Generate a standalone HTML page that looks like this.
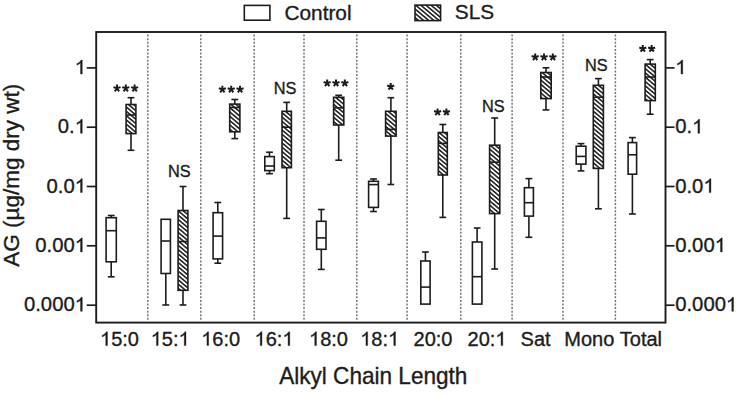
<!DOCTYPE html><html><head><meta charset="utf-8"><style>html,body{margin:0;padding:0;background:#fff;}svg{display:block;}text{font-family:"Liberation Sans",sans-serif;fill:#1c1c1c;stroke:#1c1c1c;stroke-width:0.35px;}</style></head><body><svg width="742" height="396" viewBox="0 0 742 396"><defs><pattern id="h" patternUnits="userSpaceOnUse" width="10" height="3.3" patternTransform="rotate(40)"><rect width="10" height="3.3" fill="#fff"></rect><rect y="0" width="10" height="1.55" fill="#1c1c1c"></rect></pattern></defs><rect width="742" height="396" fill="#fff"></rect><line x1="147.8" y1="34.6" x2="147.8" y2="320.4" stroke="#727272" stroke-width="1.45" stroke-dasharray="2 1.585"></line><line x1="200.8" y1="34.6" x2="200.8" y2="320.4" stroke="#727272" stroke-width="1.45" stroke-dasharray="2 1.585"></line><line x1="254.2" y1="34.6" x2="254.2" y2="320.4" stroke="#727272" stroke-width="1.45" stroke-dasharray="2 1.585"></line><line x1="304.0" y1="34.6" x2="304.0" y2="320.4" stroke="#727272" stroke-width="1.45" stroke-dasharray="2 1.585"></line><line x1="356.8" y1="34.6" x2="356.8" y2="320.4" stroke="#727272" stroke-width="1.45" stroke-dasharray="2 1.585"></line><line x1="407.1" y1="34.6" x2="407.1" y2="320.4" stroke="#727272" stroke-width="1.45" stroke-dasharray="2 1.585"></line><line x1="460.8" y1="34.6" x2="460.8" y2="320.4" stroke="#727272" stroke-width="1.45" stroke-dasharray="2 1.585"></line><line x1="512.1" y1="34.6" x2="512.1" y2="320.4" stroke="#727272" stroke-width="1.45" stroke-dasharray="2 1.585"></line><line x1="563.0" y1="34.6" x2="563.0" y2="320.4" stroke="#727272" stroke-width="1.45" stroke-dasharray="2 1.585"></line><line x1="615.4" y1="34.6" x2="615.4" y2="320.4" stroke="#727272" stroke-width="1.45" stroke-dasharray="2 1.585"></line><rect x="96.2" y="32.0" width="569.3" height="290.6" fill="none" stroke="#1c1c1c" stroke-width="1.9"></rect><line x1="86.8" y1="67.9" x2="96.2" y2="67.9" stroke="#1c1c1c" stroke-width="1.7"></line><line x1="665.5" y1="67.9" x2="674.5" y2="67.9" stroke="#1c1c1c" stroke-width="1.7"></line><text x="86.0" y="74.0" font-size="20.3" text-anchor="end"><tspan style="fill:none;stroke:none">1</tspan></text><text x="675.2" y="74.0" font-size="20.3"><tspan style="fill:none;stroke:none">1</tspan></text><line x1="86.8" y1="127.2" x2="96.2" y2="127.2" stroke="#1c1c1c" stroke-width="1.7"></line><line x1="665.5" y1="127.2" x2="674.5" y2="127.2" stroke="#1c1c1c" stroke-width="1.7"></line><text x="86.0" y="133.3" font-size="20.3" text-anchor="end">0.<tspan style="fill:none;stroke:none">1</tspan></text><text x="675.2" y="133.3" font-size="20.3">0.<tspan style="fill:none;stroke:none">1</tspan></text><line x1="86.8" y1="186.5" x2="96.2" y2="186.5" stroke="#1c1c1c" stroke-width="1.7"></line><line x1="665.5" y1="186.5" x2="674.5" y2="186.5" stroke="#1c1c1c" stroke-width="1.7"></line><text x="86.0" y="192.6" font-size="20.3" text-anchor="end">0.0<tspan style="fill:none;stroke:none">1</tspan></text><text x="675.2" y="192.6" font-size="20.3">0.0<tspan style="fill:none;stroke:none">1</tspan></text><line x1="86.8" y1="245.8" x2="96.2" y2="245.8" stroke="#1c1c1c" stroke-width="1.7"></line><line x1="665.5" y1="245.8" x2="674.5" y2="245.8" stroke="#1c1c1c" stroke-width="1.7"></line><text x="86.0" y="251.9" font-size="20.3" text-anchor="end">0.00<tspan style="fill:none;stroke:none">1</tspan></text><text x="675.2" y="251.9" font-size="20.3">0.00<tspan style="fill:none;stroke:none">1</tspan></text><line x1="86.8" y1="305.2" x2="96.2" y2="305.2" stroke="#1c1c1c" stroke-width="1.7"></line><line x1="665.5" y1="305.2" x2="674.5" y2="305.2" stroke="#1c1c1c" stroke-width="1.7"></line><text x="86.0" y="311.3" font-size="20.3" text-anchor="end">0.000<tspan style="fill:none;stroke:none">1</tspan></text><text x="675.2" y="311.3" font-size="20.3">0.000<tspan style="fill:none;stroke:none">1</tspan></text><g stroke="#1c1c1c" stroke-width="1.6"><line x1="111.2" y1="215.5" x2="111.2" y2="217.7"></line><line x1="107.8" y1="215.5" x2="114.6" y2="215.5"></line><line x1="111.2" y1="261.8" x2="111.2" y2="276.8"></line><line x1="107.8" y1="276.8" x2="114.6" y2="276.8"></line><rect x="106.1" y="217.7" width="10.2" height="44.1" fill="#fff"></rect><line x1="106.1" y1="230.7" x2="116.3" y2="230.7"></line><line x1="165.8" y1="273.5" x2="165.8" y2="305.0"></line><line x1="162.3" y1="305.0" x2="169.2" y2="305.0"></line><rect x="161.1" y="219.3" width="9.3" height="54.2" fill="#fff"></rect><line x1="161.1" y1="241.0" x2="170.4" y2="241.0"></line><line x1="217.8" y1="202.5" x2="217.8" y2="212.7"></line><line x1="214.4" y1="202.5" x2="221.2" y2="202.5"></line><line x1="217.8" y1="258.9" x2="217.8" y2="263.2"></line><line x1="214.4" y1="263.2" x2="221.2" y2="263.2"></line><rect x="213.1" y="212.7" width="9.5" height="46.2" fill="#fff"></rect><line x1="213.1" y1="236.1" x2="222.6" y2="236.1"></line><line x1="269.5" y1="152.2" x2="269.5" y2="156.6"></line><line x1="266.1" y1="152.2" x2="272.9" y2="152.2"></line><line x1="269.5" y1="170.6" x2="269.5" y2="173.7"></line><line x1="266.1" y1="173.7" x2="272.9" y2="173.7"></line><rect x="264.8" y="156.6" width="9.5" height="14.0" fill="#fff"></rect><line x1="264.8" y1="166.0" x2="274.3" y2="166.0"></line><line x1="321.3" y1="209.5" x2="321.3" y2="221.3"></line><line x1="317.9" y1="209.5" x2="324.7" y2="209.5"></line><line x1="321.3" y1="249.3" x2="321.3" y2="269.4"></line><line x1="317.9" y1="269.4" x2="324.7" y2="269.4"></line><rect x="316.6" y="221.3" width="9.4" height="28.0" fill="#fff"></rect><line x1="316.6" y1="237.9" x2="326.0" y2="237.9"></line><line x1="373.5" y1="179.0" x2="373.5" y2="181.3"></line><line x1="370.1" y1="179.0" x2="376.9" y2="179.0"></line><line x1="373.5" y1="207.4" x2="373.5" y2="211.5"></line><line x1="370.1" y1="211.5" x2="376.9" y2="211.5"></line><rect x="368.6" y="181.3" width="9.8" height="26.1" fill="#fff"></rect><line x1="368.6" y1="184.6" x2="378.4" y2="184.6"></line><line x1="425.4" y1="252.0" x2="425.4" y2="261.0"></line><line x1="422.1" y1="252.0" x2="428.8" y2="252.0"></line><rect x="420.8" y="261.0" width="9.3" height="43.1" fill="#fff"></rect><line x1="420.8" y1="287.1" x2="430.1" y2="287.1"></line><line x1="477.1" y1="228.0" x2="477.1" y2="242.0"></line><line x1="473.8" y1="228.0" x2="480.5" y2="228.0"></line><rect x="472.4" y="242.0" width="9.5" height="62.1" fill="#fff"></rect><line x1="472.4" y1="276.7" x2="481.9" y2="276.7"></line><line x1="528.9" y1="178.6" x2="528.9" y2="187.7"></line><line x1="525.5" y1="178.6" x2="532.3" y2="178.6"></line><line x1="528.9" y1="216.1" x2="528.9" y2="237.3"></line><line x1="525.5" y1="237.3" x2="532.3" y2="237.3"></line><rect x="524.4" y="187.7" width="9.0" height="28.4" fill="#fff"></rect><line x1="524.4" y1="202.7" x2="533.4" y2="202.7"></line><line x1="581.0" y1="143.6" x2="581.0" y2="146.2"></line><line x1="577.6" y1="143.6" x2="584.4" y2="143.6"></line><line x1="581.0" y1="164.1" x2="581.0" y2="170.9"></line><line x1="577.6" y1="170.9" x2="584.4" y2="170.9"></line><rect x="576.2" y="146.2" width="9.7" height="17.9" fill="#fff"></rect><line x1="576.2" y1="156.4" x2="585.9" y2="156.4"></line><line x1="632.4" y1="137.6" x2="632.4" y2="142.6"></line><line x1="629.0" y1="137.6" x2="635.8" y2="137.6"></line><line x1="632.4" y1="174.2" x2="632.4" y2="214.0"></line><line x1="629.0" y1="214.0" x2="635.8" y2="214.0"></line><rect x="628.1" y="142.6" width="8.5" height="31.6" fill="#fff"></rect><line x1="628.1" y1="154.8" x2="636.6" y2="154.8"></line><line x1="131.0" y1="97.7" x2="131.0" y2="104.5"></line><line x1="127.6" y1="97.7" x2="134.4" y2="97.7"></line><line x1="131.0" y1="133.6" x2="131.0" y2="150.3"></line><line x1="127.6" y1="150.3" x2="134.4" y2="150.3"></line><rect x="126.1" y="104.5" width="9.8" height="29.1" fill="url(#h)"></rect><line x1="126.1" y1="115.0" x2="135.9" y2="115.0"></line><line x1="183.0" y1="186.5" x2="183.0" y2="210.5"></line><line x1="179.6" y1="186.5" x2="186.4" y2="186.5"></line><line x1="183.0" y1="290.3" x2="183.0" y2="305.0"></line><line x1="179.6" y1="305.0" x2="186.4" y2="305.0"></line><rect x="178.1" y="210.5" width="9.8" height="79.8" fill="url(#h)"></rect><line x1="178.1" y1="241.5" x2="187.9" y2="241.5"></line><line x1="234.8" y1="99.5" x2="234.8" y2="104.1"></line><line x1="231.4" y1="99.5" x2="238.2" y2="99.5"></line><line x1="234.8" y1="131.8" x2="234.8" y2="138.6"></line><line x1="231.4" y1="138.6" x2="238.2" y2="138.6"></line><rect x="229.7" y="104.1" width="10.2" height="27.7" fill="url(#h)"></rect><line x1="229.7" y1="107.5" x2="239.9" y2="107.5"></line><line x1="286.7" y1="102.4" x2="286.7" y2="111.3"></line><line x1="283.3" y1="102.4" x2="290.1" y2="102.4"></line><line x1="286.7" y1="167.7" x2="286.7" y2="218.4"></line><line x1="283.3" y1="218.4" x2="290.1" y2="218.4"></line><rect x="282.0" y="111.3" width="9.4" height="56.4" fill="url(#h)"></rect><line x1="282.0" y1="127.2" x2="291.4" y2="127.2"></line><line x1="338.7" y1="95.3" x2="338.7" y2="97.3"></line><line x1="335.3" y1="95.3" x2="342.1" y2="95.3"></line><line x1="338.7" y1="125.0" x2="338.7" y2="160.2"></line><line x1="335.3" y1="160.2" x2="342.1" y2="160.2"></line><rect x="333.6" y="97.3" width="10.2" height="27.7" fill="url(#h)"></rect><line x1="333.6" y1="107.9" x2="343.8" y2="107.9"></line><line x1="390.9" y1="97.7" x2="390.9" y2="111.3"></line><line x1="387.5" y1="97.7" x2="394.2" y2="97.7"></line><line x1="390.9" y1="136.1" x2="390.9" y2="184.5"></line><line x1="387.5" y1="184.5" x2="394.2" y2="184.5"></line><rect x="385.6" y="111.3" width="10.5" height="24.8" fill="url(#h)"></rect><line x1="385.6" y1="129.4" x2="396.1" y2="129.4"></line><line x1="442.8" y1="124.5" x2="442.8" y2="132.5"></line><line x1="439.4" y1="124.5" x2="446.2" y2="124.5"></line><line x1="442.8" y1="175.0" x2="442.8" y2="217.4"></line><line x1="439.4" y1="217.4" x2="446.2" y2="217.4"></line><rect x="438.3" y="132.5" width="9.0" height="42.5" fill="url(#h)"></rect><line x1="438.3" y1="143.4" x2="447.3" y2="143.4"></line><line x1="494.7" y1="118.0" x2="494.7" y2="145.2"></line><line x1="491.3" y1="118.0" x2="498.1" y2="118.0"></line><line x1="494.7" y1="213.6" x2="494.7" y2="269.0"></line><line x1="491.3" y1="269.0" x2="498.1" y2="269.0"></line><rect x="489.6" y="145.2" width="10.2" height="68.4" fill="url(#h)"></rect><line x1="489.6" y1="162.2" x2="499.8" y2="162.2"></line><line x1="546.0" y1="67.8" x2="546.0" y2="72.5"></line><line x1="542.6" y1="67.8" x2="549.4" y2="67.8"></line><line x1="546.0" y1="98.6" x2="546.0" y2="109.9"></line><line x1="542.6" y1="109.9" x2="549.4" y2="109.9"></line><rect x="540.8" y="72.5" width="10.4" height="26.1" fill="url(#h)"></rect><line x1="540.8" y1="77.0" x2="551.2" y2="77.0"></line><line x1="598.4" y1="78.6" x2="598.4" y2="85.3"></line><line x1="595.0" y1="78.6" x2="601.8" y2="78.6"></line><line x1="598.4" y1="168.4" x2="598.4" y2="208.8"></line><line x1="595.0" y1="208.8" x2="601.8" y2="208.8"></line><rect x="593.3" y="85.3" width="10.1" height="83.1" fill="url(#h)"></rect><line x1="593.3" y1="97.2" x2="603.4" y2="97.2"></line><line x1="650.2" y1="59.6" x2="650.2" y2="64.1"></line><line x1="646.8" y1="59.6" x2="653.6" y2="59.6"></line><line x1="650.2" y1="100.6" x2="650.2" y2="114.2"></line><line x1="646.8" y1="114.2" x2="653.6" y2="114.2"></line><rect x="645.1" y="64.1" width="10.2" height="36.5" fill="url(#h)"></rect><line x1="645.1" y1="77.0" x2="655.3" y2="77.0"></line></g><path d="M116.96,88.30L116.96,84.60M116.96,88.30L120.48,87.16M116.96,88.30L119.13,91.29M116.96,88.30L114.79,91.29M116.96,88.30L113.44,87.16" stroke="#1c1c1c" stroke-width="2.00" fill="none"></path><path d="M125.80,88.30L125.80,84.60M125.80,88.30L129.32,87.16M125.80,88.30L127.97,91.29M125.80,88.30L123.63,91.29M125.80,88.30L122.28,87.16" stroke="#1c1c1c" stroke-width="2.00" fill="none"></path><path d="M134.64,88.30L134.64,84.60M134.64,88.30L138.16,87.16M134.64,88.30L136.81,91.29M134.64,88.30L132.47,91.29M134.64,88.30L131.12,87.16" stroke="#1c1c1c" stroke-width="2.00" fill="none"></path><text x="179.3" y="177.2" font-size="16.3" text-anchor="middle">NS</text><path d="M222.36,89.40L222.36,85.70M222.36,89.40L225.88,88.26M222.36,89.40L224.53,92.39M222.36,89.40L220.19,92.39M222.36,89.40L218.84,88.26" stroke="#1c1c1c" stroke-width="2.00" fill="none"></path><path d="M231.20,89.40L231.20,85.70M231.20,89.40L234.72,88.26M231.20,89.40L233.37,92.39M231.20,89.40L229.03,92.39M231.20,89.40L227.68,88.26" stroke="#1c1c1c" stroke-width="2.00" fill="none"></path><path d="M240.04,89.40L240.04,85.70M240.04,89.40L243.56,88.26M240.04,89.40L242.21,92.39M240.04,89.40L237.87,92.39M240.04,89.40L236.52,88.26" stroke="#1c1c1c" stroke-width="2.00" fill="none"></path><text x="285.1" y="94.3" font-size="16.3" text-anchor="middle">NS</text><path d="M327.16,83.10L327.16,79.40M327.16,83.10L330.68,81.96M327.16,83.10L329.33,86.09M327.16,83.10L324.99,86.09M327.16,83.10L323.64,81.96" stroke="#1c1c1c" stroke-width="2.00" fill="none"></path><path d="M336.00,83.10L336.00,79.40M336.00,83.10L339.52,81.96M336.00,83.10L338.17,86.09M336.00,83.10L333.83,86.09M336.00,83.10L332.48,81.96" stroke="#1c1c1c" stroke-width="2.00" fill="none"></path><path d="M344.84,83.10L344.84,79.40M344.84,83.10L348.36,81.96M344.84,83.10L347.01,86.09M344.84,83.10L342.67,86.09M344.84,83.10L341.32,81.96" stroke="#1c1c1c" stroke-width="2.00" fill="none"></path><path d="M390.70,86.70L390.70,83.00M390.70,86.70L394.22,85.56M390.70,86.70L392.87,89.69M390.70,86.70L388.53,89.69M390.70,86.70L387.18,85.56" stroke="#1c1c1c" stroke-width="2.00" fill="none"></path><path d="M437.58,112.20L437.58,108.50M437.58,112.20L441.10,111.06M437.58,112.20L439.75,115.19M437.58,112.20L435.41,115.19M437.58,112.20L434.06,111.06" stroke="#1c1c1c" stroke-width="2.00" fill="none"></path><path d="M446.42,112.20L446.42,108.50M446.42,112.20L449.94,111.06M446.42,112.20L448.59,115.19M446.42,112.20L444.25,115.19M446.42,112.20L442.90,111.06" stroke="#1c1c1c" stroke-width="2.00" fill="none"></path><text x="493.3" y="112.4" font-size="16.3" text-anchor="middle">NS</text><path d="M535.16,57.20L535.16,53.50M535.16,57.20L538.68,56.06M535.16,57.20L537.33,60.19M535.16,57.20L532.99,60.19M535.16,57.20L531.64,56.06" stroke="#1c1c1c" stroke-width="2.00" fill="none"></path><path d="M544.00,57.20L544.00,53.50M544.00,57.20L547.52,56.06M544.00,57.20L546.17,60.19M544.00,57.20L541.83,60.19M544.00,57.20L540.48,56.06" stroke="#1c1c1c" stroke-width="2.00" fill="none"></path><path d="M552.84,57.20L552.84,53.50M552.84,57.20L556.36,56.06M552.84,57.20L555.01,60.19M552.84,57.20L550.67,60.19M552.84,57.20L549.32,56.06" stroke="#1c1c1c" stroke-width="2.00" fill="none"></path><text x="596.3" y="71.3" font-size="16.3" text-anchor="middle">NS</text><path d="M642.78,48.70L642.78,45.00M642.78,48.70L646.30,47.56M642.78,48.70L644.95,51.69M642.78,48.70L640.61,51.69M642.78,48.70L639.26,47.56" stroke="#1c1c1c" stroke-width="2.00" fill="none"></path><path d="M651.62,48.70L651.62,45.00M651.62,48.70L655.14,47.56M651.62,48.70L653.79,51.69M651.62,48.70L649.45,51.69M651.62,48.70L648.10,47.56" stroke="#1c1c1c" stroke-width="2.00" fill="none"></path><text x="119.5" y="345.6" font-size="20" text-anchor="middle"><tspan style="fill:none;stroke:none">1</tspan>5:0</text><text x="170.2" y="345.6" font-size="20" text-anchor="middle"><tspan style="fill:none;stroke:none">1</tspan>5:<tspan style="fill:none;stroke:none">1</tspan></text><text x="220.7" y="345.6" font-size="20" text-anchor="middle"><tspan style="fill:none;stroke:none">1</tspan>6:0</text><text x="274.0" y="345.6" font-size="20" text-anchor="middle"><tspan style="fill:none;stroke:none">1</tspan>6:<tspan style="fill:none;stroke:none">1</tspan></text><text x="328.5" y="345.6" font-size="20" text-anchor="middle"><tspan style="fill:none;stroke:none">1</tspan>8:0</text><text x="379.7" y="345.6" font-size="20" text-anchor="middle"><tspan style="fill:none;stroke:none">1</tspan>8:<tspan style="fill:none;stroke:none">1</tspan></text><text x="433.0" y="345.6" font-size="20" text-anchor="middle">20:0</text><text x="487.0" y="345.6" font-size="20" text-anchor="middle">20:<tspan style="fill:none;stroke:none">1</tspan></text><text x="535.6" y="345.6" font-size="20" text-anchor="middle">Sat</text><text x="589.3" y="345.6" font-size="20" text-anchor="middle">Mono</text><text x="640.9" y="345.6" font-size="20" text-anchor="middle">Total</text><text x="373.3" y="384.4" font-size="23.6" text-anchor="middle" textLength="188.2" lengthAdjust="spacingAndGlyphs">Alkyl Chain Length</text><text transform="translate(19.3,175.2) rotate(-90)" font-size="22.5" text-anchor="middle">AG (µg/mg dry wt)</text><rect x="244.3" y="5.4" width="25.6" height="14.8" fill="#fff" stroke="#1c1c1c" stroke-width="1.6"></rect><text x="284.5" y="19.6" font-size="20.8">Control</text><rect x="415.0" y="5.1" width="25.6" height="15.5" fill="url(#h)" stroke="#1c1c1c" stroke-width="1.6"></rect><text x="454.8" y="19.3" font-size="20.8">SLS</text><g><path d="M763 0H583V1098Q518 1038 412 979Q306 920 222 890V1057Q373 1124 486 1221Q599 1318 646 1409H763Z" transform="translate(74.72,74.00) scale(0.00991,-0.00991)" fill="#1c1c1c" stroke="#1c1c1c" stroke-width="35.3"></path><path d="M763 0H583V1098Q518 1038 412 979Q306 920 222 890V1057Q373 1124 486 1221Q599 1318 646 1409H763Z" transform="translate(675.20,74.00) scale(0.00991,-0.00991)" fill="#1c1c1c" stroke="#1c1c1c" stroke-width="35.3"></path><path d="M763 0H583V1098Q518 1038 412 979Q306 920 222 890V1057Q373 1124 486 1221Q599 1318 646 1409H763Z" transform="translate(74.72,133.30) scale(0.00991,-0.00991)" fill="#1c1c1c" stroke="#1c1c1c" stroke-width="35.3"></path><path d="M763 0H583V1098Q518 1038 412 979Q306 920 222 890V1057Q373 1124 486 1221Q599 1318 646 1409H763Z" transform="translate(692.12,133.30) scale(0.00991,-0.00991)" fill="#1c1c1c" stroke="#1c1c1c" stroke-width="35.3"></path><path d="M763 0H583V1098Q518 1038 412 979Q306 920 222 890V1057Q373 1124 486 1221Q599 1318 646 1409H763Z" transform="translate(74.72,192.60) scale(0.00991,-0.00991)" fill="#1c1c1c" stroke="#1c1c1c" stroke-width="35.3"></path><path d="M763 0H583V1098Q518 1038 412 979Q306 920 222 890V1057Q373 1124 486 1221Q599 1318 646 1409H763Z" transform="translate(703.40,192.60) scale(0.00991,-0.00991)" fill="#1c1c1c" stroke="#1c1c1c" stroke-width="35.3"></path><path d="M763 0H583V1098Q518 1038 412 979Q306 920 222 890V1057Q373 1124 486 1221Q599 1318 646 1409H763Z" transform="translate(74.72,251.90) scale(0.00991,-0.00991)" fill="#1c1c1c" stroke="#1c1c1c" stroke-width="35.3"></path><path d="M763 0H583V1098Q518 1038 412 979Q306 920 222 890V1057Q373 1124 486 1221Q599 1318 646 1409H763Z" transform="translate(714.68,251.90) scale(0.00991,-0.00991)" fill="#1c1c1c" stroke="#1c1c1c" stroke-width="35.3"></path><path d="M763 0H583V1098Q518 1038 412 979Q306 920 222 890V1057Q373 1124 486 1221Q599 1318 646 1409H763Z" transform="translate(74.72,311.30) scale(0.00991,-0.00991)" fill="#1c1c1c" stroke="#1c1c1c" stroke-width="35.3"></path><path d="M763 0H583V1098Q518 1038 412 979Q306 920 222 890V1057Q373 1124 486 1221Q599 1318 646 1409H763Z" transform="translate(725.97,311.30) scale(0.00991,-0.00991)" fill="#1c1c1c" stroke="#1c1c1c" stroke-width="35.3"></path><path d="M763 0H583V1098Q518 1038 412 979Q306 920 222 890V1057Q373 1124 486 1221Q599 1318 646 1409H763Z" transform="translate(100.03,345.60) scale(0.00977,-0.00977)" fill="#1c1c1c" stroke="#1c1c1c" stroke-width="35.8"></path><path d="M763 0H583V1098Q518 1038 412 979Q306 920 222 890V1057Q373 1124 486 1221Q599 1318 646 1409H763Z" transform="translate(150.73,345.60) scale(0.00977,-0.00977)" fill="#1c1c1c" stroke="#1c1c1c" stroke-width="35.8"></path><path d="M763 0H583V1098Q518 1038 412 979Q306 920 222 890V1057Q373 1124 486 1221Q599 1318 646 1409H763Z" transform="translate(178.54,345.60) scale(0.00977,-0.00977)" fill="#1c1c1c" stroke="#1c1c1c" stroke-width="35.8"></path><path d="M763 0H583V1098Q518 1038 412 979Q306 920 222 890V1057Q373 1124 486 1221Q599 1318 646 1409H763Z" transform="translate(201.23,345.60) scale(0.00977,-0.00977)" fill="#1c1c1c" stroke="#1c1c1c" stroke-width="35.8"></path><path d="M763 0H583V1098Q518 1038 412 979Q306 920 222 890V1057Q373 1124 486 1221Q599 1318 646 1409H763Z" transform="translate(254.53,345.60) scale(0.00977,-0.00977)" fill="#1c1c1c" stroke="#1c1c1c" stroke-width="35.8"></path><path d="M763 0H583V1098Q518 1038 412 979Q306 920 222 890V1057Q373 1124 486 1221Q599 1318 646 1409H763Z" transform="translate(282.34,345.60) scale(0.00977,-0.00977)" fill="#1c1c1c" stroke="#1c1c1c" stroke-width="35.8"></path><path d="M763 0H583V1098Q518 1038 412 979Q306 920 222 890V1057Q373 1124 486 1221Q599 1318 646 1409H763Z" transform="translate(309.03,345.60) scale(0.00977,-0.00977)" fill="#1c1c1c" stroke="#1c1c1c" stroke-width="35.8"></path><path d="M763 0H583V1098Q518 1038 412 979Q306 920 222 890V1057Q373 1124 486 1221Q599 1318 646 1409H763Z" transform="translate(360.23,345.60) scale(0.00977,-0.00977)" fill="#1c1c1c" stroke="#1c1c1c" stroke-width="35.8"></path><path d="M763 0H583V1098Q518 1038 412 979Q306 920 222 890V1057Q373 1124 486 1221Q599 1318 646 1409H763Z" transform="translate(388.04,345.60) scale(0.00977,-0.00977)" fill="#1c1c1c" stroke="#1c1c1c" stroke-width="35.8"></path><path d="M763 0H583V1098Q518 1038 412 979Q306 920 222 890V1057Q373 1124 486 1221Q599 1318 646 1409H763Z" transform="translate(495.34,345.60) scale(0.00977,-0.00977)" fill="#1c1c1c" stroke="#1c1c1c" stroke-width="35.8"></path></g></svg></body></html>
